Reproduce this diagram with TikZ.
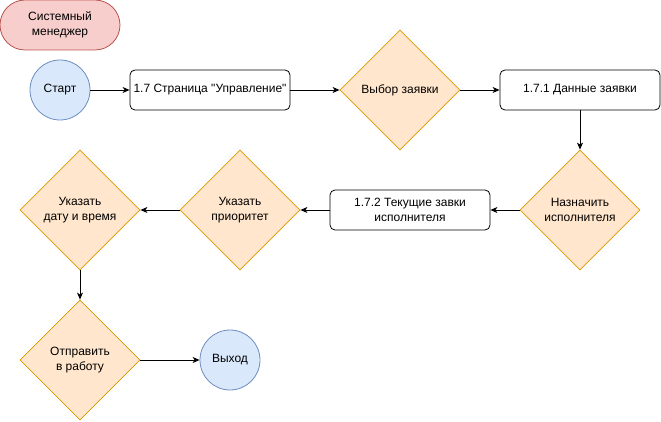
\documentclass[tikz,border=0pt]{standalone}
\usepackage{fontspec}
\setmainfont{Liberation Sans}[Ligatures=TeXOff]
\usetikzlibrary{shapes.geometric,arrows.meta}
\definecolor{redfill}{HTML}{F8CECC}
\definecolor{redline}{HTML}{B85450}
\definecolor{bluefill}{HTML}{DAE8FC}
\definecolor{blueline}{HTML}{6C8EBF}
\definecolor{orfill}{HTML}{FFE6CC}
\definecolor{orline}{HTML}{D79B00}
\tikzset{
  every node/.style={font=\fontsize{12}{15.5}\selectfont, align=center, inner sep=0pt},
  actor/.style={draw=redline, fill=redfill, rounded corners=25pt, minimum width=120pt, minimum height=50pt, line width=0.8pt},
  term/.style={circle, draw=blueline, fill=bluefill, minimum size=60pt, line width=0.8pt},
  pagebox/.style={draw=black, fill=white, rounded corners=5pt, minimum width=160pt, minimum height=40pt, line width=0.8pt},
  choice/.style={diamond, shape aspect=1, draw=orline, fill=orfill, minimum width=120pt, minimum height=120pt, line width=0.8pt},
  flow/.style={-{Stealth[length=7pt,width=6pt,inset=2pt]}, line width=0.9pt},
}
\begin{document}
\begin{tikzpicture}[x=1pt,y=-1pt]
\useasboundingbox (0,0) rectangle (661,422);
\node[actor] (mgr) at (60,25) {Системный\\менеджер};
\node[term] (start) at (60,90) {Старт};
\node[pagebox] (p17) at (210,90) {1.7 Страница "Управление"};
\node[choice] (sel) at (400,90) {Выбор заявки};
\node[pagebox] (p171) at (580,90) {1.7.1 Данные заявки};
\node[choice] (asg) at (580,210) {Назначить\\исполнителя};
\node[pagebox] (p172) at (410,210) {1.7.2 Текущие завки\\исполнителя};
\node[choice] (prio) at (240,210) {Указать\\приоритет};
\node[choice] (date) at (80,210) {Указать\\дату и время};
\node[choice] (send) at (80,360) {Отправить\\в работу};
\node[term] (exit) at (230,360) {Выход};
\draw[flow] (start) -- (p17);
\draw[flow] (p17) -- (sel);
\draw[flow] (sel) -- (p171);
\draw[flow] (p171) -- (asg);
\draw[flow] (asg) -- (p172);
\draw[flow] (p172) -- (prio);
\draw[flow] (prio) -- (date);
\draw[flow] (date) -- (send);
\draw[flow] (send) -- (exit);
\end{tikzpicture}
\end{document}
